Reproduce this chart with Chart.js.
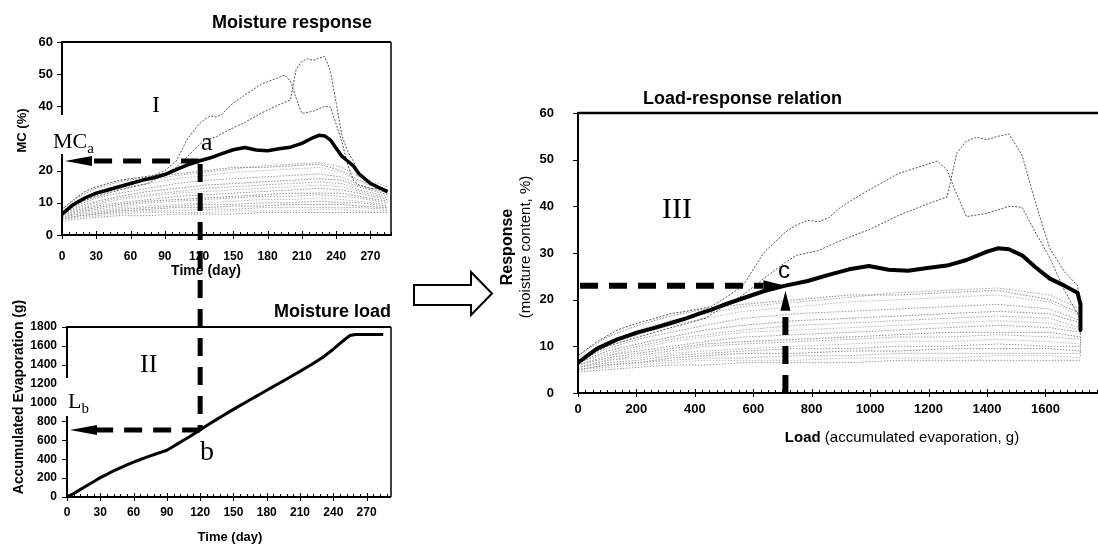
<!DOCTYPE html>
<html>
<head>
<meta charset="utf-8">
<title>Moisture load and response</title>
<script src="https://cdn.jsdelivr.net/npm/chart.js@4.4.1/dist/chart.umd.min.js"></script>
<style>
  html, body { margin: 0; padding: 0; background: #fff; }
  #page { position: relative; width: 1098px; height: 548px; overflow: hidden; background: #fff; }
  #page canvas { position: absolute; left: 0; top: 0; }
</style>
</head>
<body>
<div id="page">
  <canvas id="responseChart" width="1098" height="548"></canvas>
  <canvas id="loadChart" width="1098" height="548"></canvas>
  <canvas id="relationChart" width="1098" height="548"></canvas>
</div>
<script>
// ========================================
// Moisture response / moisture load / load-response relation
// ========================================

// Tick labels
const dayTicks = [0, 30, 60, 90, 120, 150, 180, 210, 240, 270];
const mcTicks = [0, 10, 20, 30, 40, 50, 60];
const evapTicks = [0, 200, 400, 600, 800, 1000, 1200, 1400, 1600, 1800];
const loadTicks = [0, 200, 400, 600, 800, 1000, 1200, 1400, 1600];

// Accumulated evaporation (g), read every 5 days
const loadDays = [0, 5, 10, 15, 20, 25, 30, 35, 40, 45, 50, 55, 60, 65, 70, 75, 80, 85, 90, 95,
  100, 105, 110, 115, 120, 125, 130, 135, 140, 145, 150, 155, 160, 165, 170, 175, 180, 185, 190, 195,
  200, 205, 210, 215, 220, 225, 230, 235, 240, 245, 250, 255, 260, 265, 270, 275, 280, 285];
const loadGrams = [0, 30, 65, 100, 135, 170, 205, 235, 265, 292, 318, 345, 370, 392, 415, 435, 455, 475, 495, 530,
  565, 600, 635, 672, 710, 748, 786, 822, 858, 893, 928, 962, 996, 1030, 1063, 1096, 1130, 1163, 1196, 1230,
  1263, 1297, 1330, 1365, 1400, 1437, 1475, 1520, 1565, 1615, 1665, 1710, 1720, 1720, 1720, 1720, 1720, 1720];

// Mean moisture content (thick line)
const meanDays = [0, 10, 20, 30, 40, 50, 60, 70, 80, 90, 100, 110, 120, 130, 140, 150, 160, 170, 180, 190,
  200, 210, 220, 225, 230, 235, 240, 245, 250, 255, 260, 270, 285];
const meanMC = [6.5, 9.5, 11.5, 13, 14, 15, 16, 17, 17.8, 18.8, 20.3, 21.8, 23, 24, 25.3, 26.5, 27.2, 26.4, 26.2, 26.8,
  27.3, 28.5, 30.3, 31, 30.8, 29.5, 27, 24.5, 23, 21.5, 19, 16, 13.5];

// The two wettest samples (darker thin lines)
const wetADays = [0, 10, 20, 30, 40, 50, 60, 70, 80, 90, 100, 110, 120, 125, 130, 135, 140, 145, 150, 160,
  175, 195, 200, 205, 210, 220, 230, 235, 240, 245, 250, 255, 260, 270, 285];
const wetAMC = [8, 11, 13.5, 15, 16, 17, 17.5, 18, 18.5, 20, 23, 30, 34.5, 36, 37, 36.7, 37.5, 39.5, 41, 43.5,
  47, 49.7, 47.8, 42.5, 37.8, 38.5, 40, 39.8, 34.5, 29, 22, 17, 15.5, 14.5, 14];
const wetBDays = [0, 15, 30, 50, 75, 100, 110, 120, 125, 135, 145, 160, 175, 190, 200, 205, 210, 215, 220, 225,
  230, 235, 240, 245, 250, 255, 260, 270, 285];
const wetBMC = [7, 10, 12, 14, 16, 21, 24.5, 28, 29.5, 30.5, 32.5, 35, 38, 40.5, 42, 51.5, 54, 54.8, 54.3, 55,
  55.5, 51, 41, 31, 26, 23, 19, 15.5, 13];

// Remaining samples (light grey lines), read on the same days
const greyDays = [0, 15, 30, 50, 75, 100, 125, 150, 175, 200, 225, 245, 260, 285];
const greyMC = [
  [8, 12, 14.5, 16.5, 18, 19, 20, 21, 21, 21.5, 22, 20, 17, 14],
  [7.5, 11, 13.5, 15.5, 17, 18.5, 19.5, 20.5, 21.5, 22, 22.5, 21, 18, 15],
  [7, 10.5, 12.5, 14.5, 16, 17.5, 18.5, 19.5, 20, 20.5, 21, 19.5, 16.5, 14],
  [7, 9.5, 11.5, 13, 14.5, 16, 17, 17.5, 18, 18.5, 19, 18, 15.5, 13],
  [6.5, 9, 10.5, 12, 13.5, 14.5, 15.5, 16, 16.5, 17, 17.5, 17, 15, 12.5],
  [6.5, 8.5, 10, 11.5, 12.5, 13.5, 14.5, 15, 15.5, 16, 16.5, 16, 14, 12],
  [6, 8, 9.5, 11, 12, 13, 13.5, 14, 14.5, 15, 15.5, 15, 13.5, 11.5],
  [6, 8, 9, 10, 11, 12, 12.5, 13, 13.5, 14, 14.5, 14, 13, 11],
  [6, 7.5, 8.5, 9.5, 10.5, 11, 11.5, 12, 12.5, 13, 13, 13, 12, 10.5],
  [5.5, 7, 8, 9, 10, 10.5, 11, 11.5, 12, 12, 12.5, 12, 11.5, 10],
  [5.5, 7, 7.5, 8.5, 9, 9.5, 10, 10.5, 11, 11, 11.5, 11, 10.5, 9.5],
  [5.5, 6.5, 7, 8, 8.5, 9, 9.5, 9.5, 10, 10, 10.5, 10, 10, 9],
  [5, 6, 6.5, 7.5, 8, 8.5, 8.5, 9, 9, 9.5, 9.5, 9.5, 9, 8.5],
  [5, 6, 6.5, 7, 7.5, 7.5, 8, 8, 8.5, 8.5, 8.5, 8.5, 8.5, 8],
  [5, 5.5, 6, 6.5, 7, 7, 7, 7.5, 7.5, 7.5, 8, 8, 7.5, 7.5],
  [4.5, 5, 5.5, 6, 6, 6.5, 6.5, 6.5, 7, 7, 7, 7, 7, 7]
];
const greyShades = ['#8a8a8a', '#a6a6a6', '#b8b8b8', '#989898'];

// Day picked out by the dashed arrows (points a, b, c)
const pickDay = 120;

const loadAt = new Map(loadDays.map((d, i) => [d, loadGrams[i]]));
const pickLoad = loadAt.get(pickDay);
const pickMC = meanMC[meanDays.indexOf(pickDay)];

Chart.defaults.font.family = '"Liberation Sans", Arial, sans-serif';
Chart.defaults.color = '#000';
Chart.defaults.animation = false;
Chart.defaults.responsive = false;
Chart.defaults.events = [];
Chart.defaults.elements.point.radius = 0;
Chart.defaults.elements.line.tension = 0;
Chart.defaults.elements.line.borderJoinStyle = 'round';
Chart.defaults.plugins.legend.display = false;
Chart.defaults.plugins.tooltip.enabled = false;

const byDay = (days, vals) => days.map((d, i) => ({ x: d, y: vals[i] }));
const byLoad = (days, vals) => days.map((d, i) => ({ x: loadAt.get(d), y: vals[i] }));

function moistureSets(pair, thick) {
  return [
    { data: pair(meanDays, meanMC), borderColor: '#000', borderWidth: thick },
    { data: pair(wetADays, wetAMC), borderColor: '#555', borderWidth: 1, borderDash: [2, 1.5] },
    { data: pair(wetBDays, wetBMC), borderColor: '#555', borderWidth: 1, borderDash: [2, 1.5] },
    ...greyMC.map((vals, i) => ({
      data: pair(greyDays, vals),
      borderColor: greyShades[i % greyShades.length],
      borderWidth: 1,
      borderDash: [1.5, 1.5]
    }))
  ];
}

function axis(min, max, ticks, size, padding, fit) {
  return {
    type: 'linear', min, max,
    grid: { display: false, drawTicks: false },
    border: { display: false },
    ticks: { autoSkip: false, maxRotation: 0, padding, font: { size, weight: 'bold' }, callback: v => String(v) },
    afterBuildTicks: s => { s.ticks = ticks.map(v => ({ value: v })); },
    afterFit: fit
  };
}

// ---- drawing helpers ----
function line(ctx, x1, y1, x2, y2) {
  ctx.beginPath(); ctx.moveTo(x1, y1); ctx.lineTo(x2, y2); ctx.stroke();
}

function dashed(ctx, x1, y1, x2, y2, width) {
  ctx.save();
  ctx.strokeStyle = '#000';
  ctx.lineWidth = width;
  ctx.setLineDash([18, 11]);
  line(ctx, x1, y1, x2, y2);
  ctx.restore();
}

function head(ctx, x, y, dir, len, half) {
  ctx.save();
  ctx.fillStyle = '#000';
  ctx.beginPath();
  ctx.moveTo(x, y);
  if (dir === 'left') { ctx.lineTo(x + len, y - half); ctx.lineTo(x + len, y + half); }
  if (dir === 'right') { ctx.lineTo(x - len, y - half); ctx.lineTo(x - len, y + half); }
  if (dir === 'up') { ctx.lineTo(x - half, y + len); ctx.lineTo(x + half, y + len); }
  ctx.closePath();
  ctx.fill();
  ctx.restore();
}

function label(ctx, str, x, y, font, align = 'left', base = 'alphabetic', rotate = false) {
  ctx.save();
  ctx.font = font;
  ctx.fillStyle = '#000';
  ctx.textAlign = align;
  ctx.textBaseline = base;
  ctx.translate(x, y);
  if (rotate) ctx.rotate(-Math.PI / 2);
  ctx.fillText(str, 0, 0);
  ctx.restore();
}

function subLabel(ctx, main, sub, x, y, size) {
  ctx.save();
  ctx.fillStyle = '#000';
  ctx.font = `${size}px "Liberation Serif"`;
  ctx.fillText(main, x, y);
  const w = ctx.measureText(main).width;
  ctx.font = `${Math.round(size * 0.68)}px "Liberation Serif"`;
  ctx.fillText(sub, x + w, y + size * 0.22);
  ctx.restore();
}

function drawFrame(ctx, a, x, y, o) {
  ctx.save();
  ctx.strokeStyle = '#000';
  ctx.lineWidth = 2;
  line(ctx, a.left, a.top - 1, a.left, a.bottom + 1);
  line(ctx, a.left, a.bottom, a.right, a.bottom);
  ctx.lineWidth = o.topWidth;
  line(ctx, a.left, a.top, a.right, a.top);
  if (o.rightWidth) {
    ctx.lineWidth = o.rightWidth;
    line(ctx, a.right, a.top, a.right, a.bottom);
  }
  ctx.lineWidth = 1;
  for (let v = x.min; v <= x.max; v += o.xMinor) {
    const px = Math.round(x.getPixelForValue(v)) + 0.5;
    const major = v % o.xMajor === 0;
    line(ctx, px, a.bottom - (major ? 4 : 3), px, a.bottom + (major ? 4 : 1));
  }
  y.ticks.forEach(t => {
    const py = Math.round(y.getPixelForValue(t.value)) + 0.5;
    line(ctx, a.left - 5, py, a.left, py);
  });
  ctx.restore();
}

function notes(draw) {
  return { id: 'notes', afterDraw(chart) { draw(chart.ctx, chart.chartArea, chart.scales.x, chart.scales.y); } };
}

// ---- I: moisture response ----
const responseChart = new Chart(document.getElementById('responseChart'), {
  type: 'line',
  data: { datasets: moistureSets(byDay, 3.5) },
  options: {
    layout: { padding: { left: 0, top: 42, right: 1098 - 391, bottom: 548 - 235 - 40 } },
    scales: {
      x: axis(0, 288, dayTicks, 12, 14, s => { s.height = 40; }),
      y: axis(0, 60, mcTicks, 13, 9, s => { s.width = 62; })
    }
  },
  plugins: [notes((ctx, a, x, y) => {
    drawFrame(ctx, a, x, y, { topWidth: 2, rightWidth: 1.5, xMinor: 6, xMajor: 30 });
    ctx.fillStyle = '#fff';
    ctx.fillRect(34, 115, 66, 39);
    subLabel(ctx, 'MC', 'a', 53, 148, 22);
    label(ctx, 'I', 152, 112, '24px "Liberation Serif"');
    label(ctx, 'a', 201, 150, '26px "Liberation Serif"');
    label(ctx, 'Moisture response', 212, 28, 'bold 18px "Liberation Sans"');
    label(ctx, 'MC (%)', 22, (a.top + a.bottom) / 2 - 8, 'bold 13px "Liberation Sans"', 'center', 'middle', true);
    label(ctx, 'Time (day)', 206, 271, 'bold 14px "Liberation Sans"', 'center', 'middle');
    const ax = x.getPixelForValue(pickDay), ay = y.getPixelForValue(pickMC);
    dashed(ctx, ax, ay, a.left + 30, ay, 5);
    head(ctx, a.left + 3, ay, 'left', 27, 5);
  })]
});

// ---- II: moisture load ----
const loadChart = new Chart(document.getElementById('loadChart'), {
  type: 'line',
  data: { datasets: [{ data: byDay(loadDays, loadGrams), borderColor: '#000', borderWidth: 3 }] },
  options: {
    layout: { padding: { left: 0, top: 327, right: 1098 - 391, bottom: 548 - 497 - 40 } },
    scales: {
      x: axis(0, 292, dayTicks, 12, 8, s => { s.height = 40; }),
      y: axis(0, 1800, evapTicks, 12, 10, s => { s.width = 67; })
    }
  },
  plugins: [notes((ctx, a, x, y) => {
    drawFrame(ctx, a, x, y, { topWidth: 2, rightWidth: 1.5, xMinor: 6, xMajor: 30 });
    ctx.fillStyle = '#fff';
    ctx.fillRect(62, 378, 34, 38);
    subLabel(ctx, 'L', 'b', 68, 408, 22);
    label(ctx, 'II', 140, 372, '26px "Liberation Serif"');
    label(ctx, 'b', 200, 460, '28px "Liberation Serif"');
    label(ctx, 'Moisture load', 391, 317, 'bold 18px "Liberation Sans"', 'right');
    label(ctx, 'Accumulated Evaporation (g)', 19, 397, 'bold 14px "Liberation Sans"', 'center', 'middle', true);
    label(ctx, 'Time (day)', 230, 537, 'bold 13px "Liberation Sans"', 'center', 'middle');
    const bx = x.getPixelForValue(pickDay), by = y.getPixelForValue(pickLoad);
    const top = responseChart.scales.y.getPixelForValue(pickMC);
    dashed(ctx, bx, top + 3, bx, by, 5);
    dashed(ctx, bx, by, a.left + 30, by, 5);
    head(ctx, a.left + 3, by, 'left', 27, 5);
  })]
});

// ---- III: load-response relation ----
const relationChart = new Chart(document.getElementById('relationChart'), {
  type: 'line',
  data: { datasets: moistureSets(byLoad, 4) },
  options: {
    layout: { padding: { left: 578 - 60, top: 113, right: 0, bottom: 548 - 393 - 40 } },
    scales: {
      x: axis(0, 1780, loadTicks, 13, 9, s => { s.height = 40; }),
      y: axis(0, 60, mcTicks, 13, 24, s => { s.width = 60; })
    }
  },
  plugins: [notes((ctx, a, x, y) => {
    drawFrame(ctx, a, x, y, { topWidth: 2.5, rightWidth: 0, xMinor: 25, xMajor: 200 });
    label(ctx, 'Load-response relation', 643, 104, 'bold 18px "Liberation Sans"');
    label(ctx, 'III', 662, 218, '30px "Liberation Serif"');
    label(ctx, 'c', 778, 278, '24px "Liberation Sans"');
    const mid = (a.top + a.bottom) / 2 - 6;
    label(ctx, 'Response', 508, mid, 'bold 16px "Liberation Sans"', 'center', 'middle', true);
    label(ctx, '(moisture content, %)', 526, mid, '15px "Liberation Sans"', 'center', 'middle', true);
    // x title: bold "Load" followed by plain text
    ctx.save();
    ctx.font = 'bold 15px "Liberation Sans"';
    const w1 = ctx.measureText('Load').width;
    ctx.font = '15px "Liberation Sans"';
    const rest = ' (accumulated evaporation, g)';
    const w2 = ctx.measureText(rest).width;
    ctx.restore();
    const start = 902 - (w1 + w2) / 2;
    label(ctx, 'Load', start, 442, 'bold 15px "Liberation Sans"');
    label(ctx, rest, start + w1, 442, '15px "Liberation Sans"');

    const cx = x.getPixelForValue(pickLoad), cy = y.getPixelForValue(pickMC);
    dashed(ctx, a.left + 2, cy, cx - 22, cy, 6);
    head(ctx, cx, cy, 'right', 22, 5.5);
    dashed(ctx, cx, a.bottom, cx, cy + 25, 6);
    head(ctx, cx, cy + 5, 'up', 20, 5);

    // hollow block arrow between the panels
    ctx.save();
    ctx.beginPath();
    ctx.moveTo(414, 285); ctx.lineTo(471, 285); ctx.lineTo(471, 272); ctx.lineTo(492, 293.5);
    ctx.lineTo(471, 315); ctx.lineTo(471, 305); ctx.lineTo(414, 305); ctx.closePath();
    ctx.fillStyle = '#fff'; ctx.fill();
    ctx.lineWidth = 2; ctx.strokeStyle = '#000'; ctx.stroke();
    ctx.restore();
  })]
});
</script>
</body>
</html>
